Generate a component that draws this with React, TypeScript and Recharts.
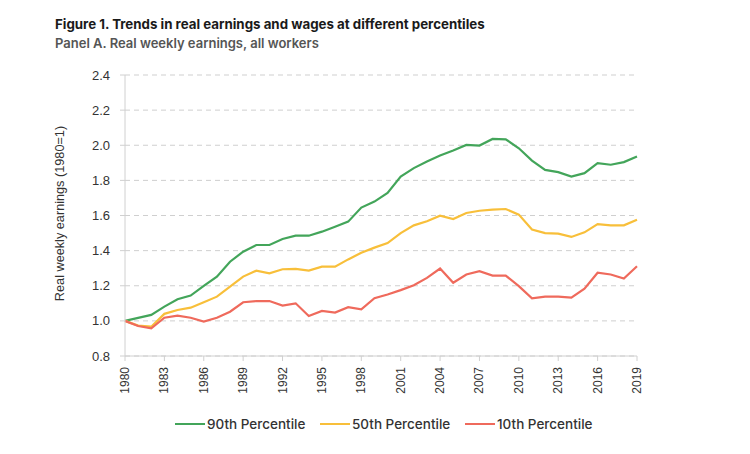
import React from 'react';
import { LineChart, Line, XAxis, YAxis, CartesianGrid } from 'recharts';

const years = [1980,1981,1982,1983,1984,1985,1986,1987,1988,1989,1990,1991,1992,1993,1994,1995,1996,1997,1998,1999,2000,2001,2002,2003,2004,2005,2006,2007,2008,2009,2010,2011,2012,2013,2014,2015,2016,2017,2018,2019];
const p90 = [1.0,1.017,1.034,1.081,1.123,1.144,1.199,1.252,1.337,1.394,1.432,1.432,1.466,1.485,1.485,1.508,1.536,1.565,1.645,1.679,1.728,1.822,1.87,1.908,1.942,1.97,2.002,1.998,2.036,2.034,1.983,1.913,1.86,1.847,1.822,1.841,1.898,1.889,1.904,1.936];
const p50 = [1.0,0.973,0.967,1.04,1.062,1.075,1.106,1.138,1.195,1.252,1.286,1.271,1.294,1.296,1.286,1.309,1.309,1.35,1.388,1.417,1.443,1.5,1.544,1.567,1.599,1.58,1.614,1.627,1.633,1.637,1.605,1.52,1.5,1.497,1.478,1.504,1.551,1.544,1.544,1.576];
const p10 = [1.0,0.971,0.958,1.018,1.03,1.018,0.996,1.018,1.052,1.106,1.113,1.113,1.087,1.1,1.028,1.057,1.047,1.078,1.066,1.129,1.15,1.175,1.203,1.245,1.298,1.217,1.264,1.283,1.258,1.258,1.198,1.128,1.138,1.138,1.132,1.183,1.274,1.264,1.241,1.311];
const xTicks = [1980,1983,1986,1989,1992,1995,1998,2001,2004,2007,2010,2013,2016,2019];
const yTicks = [0.8,1.0,1.2,1.4,1.6,1.8,2.0,2.2,2.4];

const series = [
  { key: 'p90', name: '90th Percentile', color: '#43a55a' },
  { key: 'p50', name: '50th Percentile', color: '#f8bf3a' },
  { key: 'p10', name: '10th Percentile', color: '#ef6a5c' },
];

const data = years.map((y, i) => ({ year: y, p90: p90[i], p50: p50[i], p10: p10[i] }));

const tickFont = "'Liberation Sans', Arial, sans-serif";
const headFont = "Inter, 'Noto Sans', sans-serif";

const XTick = (props: any) => {
  const { x, y, payload } = props;
  return (
    <text x={x} y={y + 4} transform={`rotate(-90 ${x} ${y + 4})`} textAnchor="end" dominantBaseline="central" fontSize={12} fill="#333" fontFamily={tickFont}>
      {payload.value}
    </text>
  );
};

const YTick = (props: any) => {
  const { x, y, payload } = props;
  return (
    <text x={x - 8} y={y} textAnchor="end" dominantBaseline="central" fontSize={13} fill="#333" fontFamily={tickFont}>
      {Number(payload.value).toFixed(1)}
    </text>
  );
};

const YLabel = (props: any) => {
  const vb = props.viewBox || { x: 0, y: 75, width: 125, height: 281 };
  const cx = 60;
  const cy = vb.y + vb.height / 2 - 2;
  return (
    <text x={cx} y={cy} transform={`rotate(-90 ${cx} ${cy})`} textAnchor="middle" dominantBaseline="central" fontSize={12.7} fill="#333" fontFamily={tickFont}>
      Real weekly earnings (1980=1)
    </text>
  );
};

export default function App() {
  return (
    <div style={{ position: 'absolute', left: 0, top: 0, width: 750, height: 454, background: '#fff' }}>
      <div style={{ position: 'absolute', left: 55, top: 16, fontFamily: headFont, fontWeight: 700, fontSize: 13.3, color: '#1a1a1a', whiteSpace: 'nowrap' }}>
        Figure 1. Trends in real earnings and wages at different percentiles
      </div>
      <div style={{ position: 'absolute', left: 55, top: 35, fontFamily: headFont, fontWeight: 600, fontSize: 13, color: '#555', whiteSpace: 'nowrap' }}>
        Panel A. Real weekly earnings, all workers
      </div>
      <LineChart width={750} height={454} data={data} margin={{ top: 75, right: 113, left: 0, bottom: 58 }}>
        <CartesianGrid horizontal vertical={false} stroke="#cfcfcf" strokeDasharray="5 4" />
        <XAxis dataKey="year" type="number" domain={[1980, 2019]} ticks={xTicks} interval={0} height={40}
          stroke="#d0d0d0" tickLine={{ stroke: '#d0d0d0' }} tickSize={5} tick={<XTick />} />
        <YAxis type="number" domain={[0.8, 2.4]} ticks={yTicks} interval={0} width={125}
          stroke="#d0d0d0" tickLine={{ stroke: '#d0d0d0' }} tickSize={5} tick={<YTick />} label={<YLabel />} />
        {series.map(s => (
          <Line key={s.key} type="linear" dataKey={s.key} name={s.name} stroke={s.color} strokeWidth={2.2} dot={false} isAnimationActive={false} />
        ))}
      </LineChart>
      <div style={{ position: 'absolute', left: 0, top: 416, width: 750, height: 20 }}>
        {series.map((s, i) => (
          <div key={s.key} style={{ position: 'absolute', left: [175, 320, 465][i], top: 0, display: 'flex', alignItems: 'center', whiteSpace: 'nowrap' }}>
            <span style={{ display: 'inline-block', width: 30, height: 2, background: s.color, marginRight: 2 }} />
            <span style={{ fontFamily: headFont, fontWeight: 500, fontSize: 13.5, color: '#333' }}>{s.name}</span>
          </div>
        ))}
      </div>
    </div>
  );
}
